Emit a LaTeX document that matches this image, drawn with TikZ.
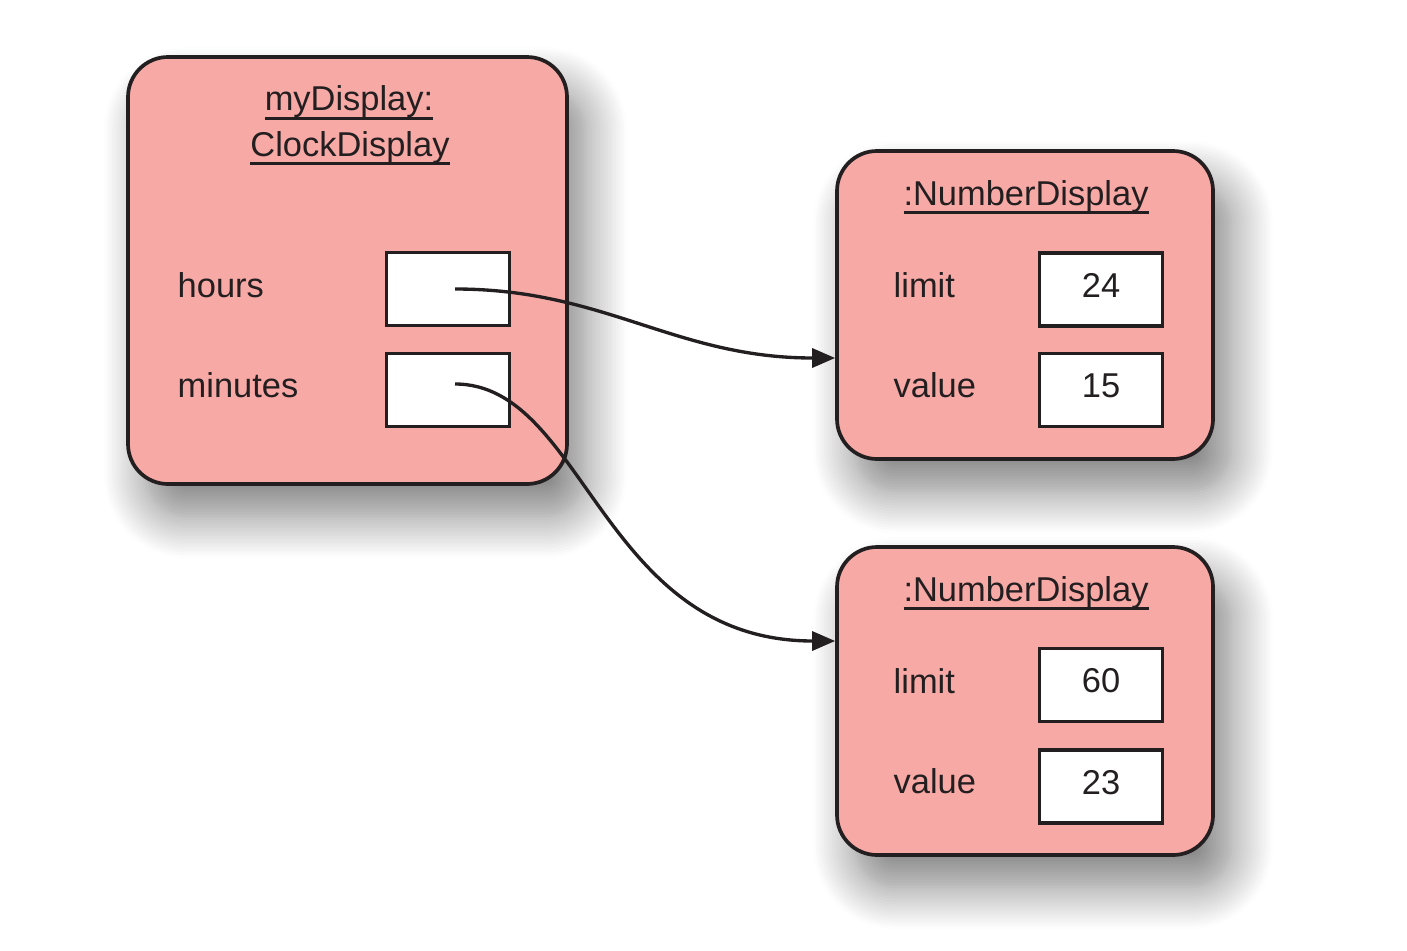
\documentclass[tikz,border=0pt]{standalone}
\usepackage{fontspec}
\setmainfont{Liberation Sans}
\usetikzlibrary{arrows.meta,shadows.blur}
\definecolor{objfill}{RGB}{247,169,166}
\definecolor{ink}{RGB}{35,31,32}
% underlined object name
\newsavebox{\ulbox}
\newcommand{\objul}[1]{\sbox{\ulbox}{#1}\rlap{\usebox{\ulbox}}\rule[-2.6pt]{\wd\ulbox}{0.85pt}}
\begin{document}
\begin{tikzpicture}[
    every node/.style={font=\fontsize{9.8pt}{12pt}\selectfont, text=ink},
    obj/.style={draw=ink, fill=objfill, line width=1.05pt, rounded corners=0.4cm,
        minimum width=#1, inner sep=0pt,
        blur shadow={shadow xshift=0.18cm, shadow yshift=-0.32cm,
            shadow blur radius=0.42cm, shadow blur steps=16, shadow opacity=50}},
    field/.style={draw=ink, fill=white, line width=1.1pt, inner sep=0pt,
        minimum width=1.23cm, minimum height=0.73cm, text height=7pt, text depth=2.5pt},
    lbl/.style={anchor=base west, inner sep=0pt},
    title/.style={anchor=base, inner sep=0pt},
    link/.style={draw=ink, line width=0.95pt, -{Triangle[length=0.23cm, width=0.19cm]}}
]
    \useasboundingbox (0, 0) rectangle (14.07, -9.5);

    % ClockDisplay object
    \node[obj=4.39cm, minimum height=4.27cm] (clock) at (3.475, -2.705) {};
    \node[title] (clocktitleA) at (3.49, -1.11) {\objul{myDisplay:}};
    \node[title] (clocktitleB) at (3.50, -1.56) {\objul{ClockDisplay}};
    \node[lbl] (hourslbl) at (1.77, -2.97) {hours};
    \node[lbl] (minuteslbl) at (1.77, -3.97) {minutes};
    \node[field] (hoursval) at (4.48, -2.89) {};
    \node[field] (minutesval) at (4.48, -3.90) {};

    % NumberDisplay for the hours
    \node[obj=3.76cm, minimum height=3.08cm] (hnum) at (10.25, -3.05) {};
    \node[title] (hnumtitle) at (10.26, -2.05) {\objul{:NumberDisplay}};
    \node[lbl] (hlimitlbl) at (8.93, -2.97) {limit};
    \node[lbl] (hvaluelbl) at (8.93, -3.97) {value};
    \node[field] (hlimitval) at (11.01, -2.895) {24};
    \node[field] (hvalueval) at (11.01, -3.90) {15};

    % NumberDisplay for the minutes
    \node[obj=3.76cm, minimum height=3.08cm] (mnum) at (10.25, -7.01) {};
    \node[title] (mnumtitle) at (10.26, -6.01) {\objul{:NumberDisplay}};
    \node[lbl] (mlimitlbl) at (8.93, -6.93) {limit};
    \node[lbl] (mvaluelbl) at (8.93, -7.93) {value};
    \node[field] (mlimitval) at (11.01, -6.85) {60};
    \node[field] (mvalueval) at (11.01, -7.865) {23};

    % Reference ends
    \path ([xshift=0.07cm]hoursval.center) coordinate (hout);
    \path ([xshift=0.07cm, yshift=0.06cm]minutesval.center) coordinate (mout);
    \path ([yshift=-0.53cm]hnum.west) coordinate (hin);
    \path ([yshift=0.60cm]mnum.west) coordinate (min);

    % References
    \draw[link] (hout) .. controls +(1.5, 0) and +(-1.6, 0) .. (hin);
    \draw[link] (mout) .. controls +(1.3, 0) and +(-2.34, 0) .. (min);
\end{tikzpicture}
\end{document}
